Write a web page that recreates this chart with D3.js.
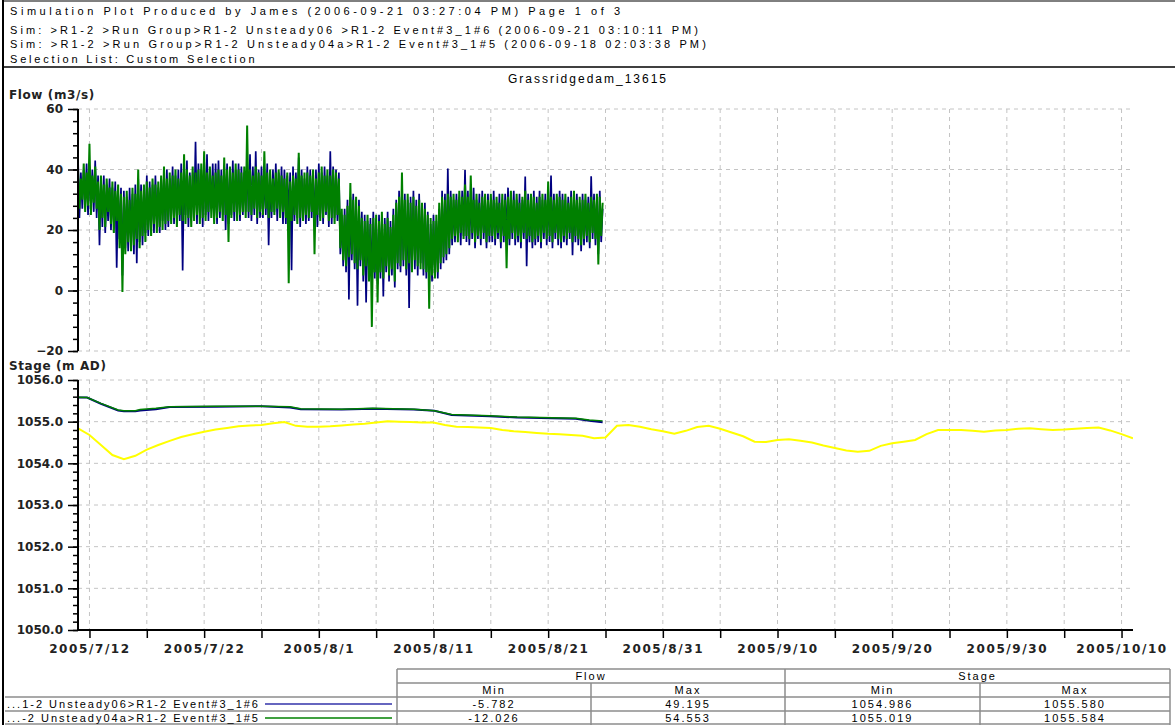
<!DOCTYPE html>
<html>
<head>
<meta charset="utf-8">
<script src="https://cdn.jsdelivr.net/npm/d3@7"></script>
<style>
body { margin: 0; background: #fff; }
svg text { font-family: "Liberation Sans", Arial, sans-serif; fill: #000; }
.axis text, text.axis { font-family: "DejaVu Sans", Verdana, sans-serif; font-weight: bold; font-size: 12px; fill: #222; }
</style>
</head>
<body>
<svg id="chart" width="1175" height="725"></svg>
<script>
// ---- data ----
var headerLines = [
	"Simulation Plot Produced by James (2006-09-21 03:27:04 PM) Page 1 of 3",
	"Sim: >R1-2 >Run Group>R1-2 Unsteady06 >R1-2 Event#3_1#6 (2006-09-21 03:10:11 PM)",
	"Sim: >R1-2 >Run Group>R1-2 Unsteady04a>R1-2 Event#3_1#5 (2006-09-18 02:03:38 PM)",
	"Selection List: Custom Selection"
];
var chartTitle = "Grassridgedam_13615";
var xDomain = ["2005-07-11 00:00", "2005-10-11 00:00"];
var xFirstTick = "2005-07-12 00:00";

// flow, 3-hourly from flowStart
var flowStart = "2005-07-11 00:00", flowStepHours = 3;
var flowUnsteady06 = [
	44, 24, 39, 27, 40, 29, 42, 25, 41, 28, 40, 26, 43, 24, 38, 15,
	36, 21, 38, 19, 35, 23, 37, 20, 34, 22, 36, 7.5, 33, 17, 34, 5,
	33, 14, 31, 13, 34, 16, 32, 12, 35, 9, 37, 16, 35, 15, 33, 19,
	38, 18, 36, 21, 35, 19, 38, 22, 34, 19, 37, 23, 39, 20, 40, 21,
	37, 24, 41, 22, 38, 24, 40, 23, 42, 6.6, 40, 25, 43, 21, 39, 24,
	39, 25, 49.195, 22, 42, 25, 40, 21, 43, 25, 45, 23, 40, 27, 42, 24,
	42, 22, 43, 24, 40, 25, 41, 20, 42, 22, 39, 25, 43, 23, 40, 25,
	42, 23, 41, 25, 39, 26, 43, 24, 45, 23, 41, 25, 46, 22, 40, 24,
	41, 24, 39, 25, 42, 15, 38, 24, 40, 26, 42, 23, 39, 25, 41, 22,
	40, 22, 38, 25, 39, 6.7, 41, 23, 39, 24, 44, 21, 40, 24, 37, 22,
	41, 23, 40, 24, 38, 22, 40, 21, 42, 24, 39, 22, 41, 25, 38, 21,
	46, 22, 41, 24, 40, 23, 39, 12, 25, 8, 27, 6, 30, -3, 31, 10,
	32, 7, 29, -5, 30, 8, 26, 3, 25, -4, 23, 5, 24, 2, 26, 4,
	23, 2, 25, 4, 24, -2, 24, 6, 26, 3, 23, 5, 27, 1, 30, 7,
	33, 6, 35, 8, 32, 5, 30, -5.782, 31, 8, 33, 7, 30, 5, 32, 9,
	27, 5, 29, 4, 26, 2, 22, 3, 25, 6, 23, 4, 27, 7, 33, 9,
	32, 10, 40.3, 12, 33, 15, 30, 16, 32, 18, 31, 15, 33, 18, 39.8, 16,
	33, 15, 32, 17, 34, 14, 30, 17, 32, 15, 33, 17, 30, 14, 32, 16,
	30, 16, 33, 15, 29, 17, 32, 14, 30, 16, 32, 18, 34, 15, 31, 17,
	33, 15, 30, 16, 32, 14, 30, 17, 37.7, 8, 32, 16, 30, 14, 33, 15,
	31, 16, 33, 14, 30, 17, 32, 15, 33, 16, 38, 14, 32, 17, 30, 15,
	33, 14, 32, 16, 30, 15, 31, 17, 33, 11.7, 31, 16, 32, 15, 29, 13,
	32, 15, 30, 16, 31, 14, 37.8, 17, 32, 15, 30, 12, 33, 16, 27
];
var flowUnsteady04a = [
	40, 27, 37, 30, 42, 26, 39, 28, 48.5, 25, 38, 29, 41, 27, 36, 20,
	38, 24, 35, 21, 37, 26, 34, 22, 36, 19, 33, 23, 35, 14, 32, -0.5,
	31, 12, 33, 16, 30, 13, 34, 15, 32, 17, 40, 14, 33, 18, 35, 16,
	36, 20, 34, 18, 37, 22, 35, 19, 36, 21, 38, 20, 41, 22, 37, 23,
	39, 22, 38, 24, 40, 21, 37, 25, 39, 23, 45, 22, 40, 24, 38, 21,
	41, 23, 39, 25, 40, 22, 42, 24, 46, 23, 39, 26, 41, 24, 38, 22,
	39, 24, 40, 26, 38, 23, 44, 25, 40, 16, 41, 24, 39, 26, 42, 23,
	40, 25, 39, 26, 41, 24, 54.553, 26, 40, 25, 38, 27, 41, 24, 39, 26,
	38, 25, 46, 27, 39, 24, 40, 26, 37, 25, 39, 27, 40, 24, 38, 26,
	37, 24, 39, 2.4, 36, 23, 38, 25, 37, 22, 45.5, 24, 38, 23, 39, 25,
	39, 24, 38, 26, 40, 12, 37, 25, 39, 23, 41, 24, 38, 26, 40, 23,
	38, 24, 40, 22, 39, 25, 37, 14, 27, 10, 25, 8, 28, 11, 35.5, 12,
	30, 9, 31, 7, 28, 10, 24, 5, 23, 8, 25, 3, 22, -12.026, 24, 6,
	25, -4, 23, 6, 26, 4, 22, 8, 24, 5, 21, 7, 25, 3, 29, 9,
	31, 8, 39, 10, 30, 7, 32, 9, 29, 6, 31, 10, 28, 8, 30, 7,
	29, 7, 27, 6, 25, -6, 24, 5, 23, 4, 25, 6, 29, 9, 31, 11,
	30, 12, 32, 14, 31, 17, 32, 18, 30, 16, 33, 19, 31, 17, 35, 18,
	31, 17, 38, 19, 30, 16, 32, 18, 29, 17, 31, 19, 32, 16, 30, 18,
	32, 18, 30, 17, 31, 19, 29, 16, 32, 18, 30, 7.4, 31, 17, 33, 19,
	30, 17, 32, 18, 29, 16, 31, 19, 33, 17, 30, 18, 32, 16, 31, 17,
	29, 18, 31, 16, 32, 19, 30, 17, 36, 18, 31, 16, 30, 19, 32, 17,
	31, 16, 30, 18, 32, 17, 29, 19, 31, 16, 33, 18, 30, 17, 31, 15,
	30, 17, 32, 18, 29, 16, 31, 19, 30, 17, 32, 8.6, 31, 18, 29
];

// stage of the two runs (break points)
var stageSimTimes = [
	"2005-07-11 00:00", "2005-07-11 19:00", "2005-07-13 00:00", "2005-07-14 12:00",
	"2005-07-15 00:00", "2005-07-16 00:00", "2005-07-16 10:00", "2005-07-17 19:00",
	"2005-07-19 00:00", "2005-07-23 00:00", "2005-07-27 00:00", "2005-07-29 12:00",
	"2005-07-30 10:00", "2005-08-03 00:00", "2005-08-05 17:00", "2005-08-09 07:00",
	"2005-08-11 02:00", "2005-08-12 14:00", "2005-08-15 22:00", "2005-08-18 07:00",
	"2005-08-23 10:00", "2005-08-24 14:00", "2005-08-25 18:00"
];
var stageUnsteady06 = [
	1055.580, 1055.58, 1055.43, 1055.27, 1055.25, 1055.25, 1055.27, 1055.30,
	1055.35, 1055.36, 1055.37, 1055.34, 1055.30, 1055.29, 1055.31, 1055.29,
	1055.26, 1055.16, 1055.13, 1055.10, 1055.07, 1055.02, 1054.986
];
var stageUnsteady04a = [
	1055.584, 1055.58, 1055.44, 1055.28, 1055.26, 1055.26, 1055.29, 1055.32,
	1055.36, 1055.37, 1055.37, 1055.36, 1055.31, 1055.30, 1055.32, 1055.30,
	1055.26, 1055.17, 1055.14, 1055.11, 1055.08, 1055.04, 1055.019
];

// third stage line (yellow), daily from stageObsStart
var stageObsStart = "2005-07-11 00:00";
var stageObserved = [
	1054.84, 1054.68, 1054.44, 1054.20, 1054.10, 1054.18, 1054.33, 1054.44, 1054.54, 1054.63,
	1054.70, 1054.76, 1054.81, 1054.85, 1054.89, 1054.91, 1054.92, 1054.96, 1054.99, 1054.90,
	1054.88, 1054.88, 1054.89, 1054.91, 1054.93, 1054.95, 1054.98, 1055.01, 1055.00, 1054.99,
	1054.98, 1054.98, 1054.92, 1054.88, 1054.87, 1054.86, 1054.85, 1054.80, 1054.77, 1054.75,
	1054.73, 1054.71, 1054.70, 1054.68, 1054.66, 1054.60, 1054.62, 1054.90, 1054.92, 1054.88,
	1054.82, 1054.77, 1054.71, 1054.78, 1054.87, 1054.90, 1054.83, 1054.74, 1054.65, 1054.52,
	1054.51, 1054.56, 1054.58, 1054.54, 1054.50, 1054.43, 1054.37, 1054.31, 1054.28, 1054.30,
	1054.42, 1054.48, 1054.52, 1054.56, 1054.70, 1054.80, 1054.80, 1054.80, 1054.78, 1054.76,
	1054.79, 1054.80, 1054.83, 1054.84, 1054.82, 1054.80, 1054.81, 1054.83, 1054.85, 1054.86,
	1054.79, 1054.70, 1054.60
];

var legendNames = ["...1-2 Unsteady06>R1-2 Event#3_1#6", "...-2 Unsteady04a>R1-2 Event#3_1#5"];
var flowMin = ["-5.782", "-12.026"],
	flowMax = ["49.195", "54.553"],
	stageMin = ["1054.986", "1055.019"],
	stageMax = ["1055.580", "1055.584"];

var blueColor = "#000080",
	greenColor = "#008000",
	yellowColor = "#ffff00",
	gridColor = "#c4c4c4",
	tableColor = "#8c8c8c";

// ---- layout ----
var svg = d3.select("#chart"),
	parse = d3.utcParse("%Y-%m-%d %H:%M"),
	left = 78,
	right = 1133;

var x = d3.scaleUtc()
	.domain(xDomain.map(parse))
	.range([left, right]);
var yFlow = d3.scaleLinear().domain([-20, 60]).range([351, 109]);
var yStage = d3.scaleLinear().domain([1050, 1056]).range([630, 380]);

// frame + header
svg.append("line").attr("x1", 3).attr("x2", 3).attr("y1", 0).attr("y2", 725)
	.attr("stroke", "#000").attr("stroke-width", 2);
svg.append("line").attr("x1", 3).attr("x2", 1175).attr("y1", 1).attr("y2", 1)
	.attr("stroke", "#000").attr("stroke-width", 1);
svg.append("line").attr("x1", 3).attr("x2", 1175).attr("y1", 67).attr("y2", 67)
	.attr("stroke", "#000").attr("stroke-width", 1.5);
var headerSpacing = [3.55, 3.1, 3.15, 2.8];
svg.append("g").selectAll("text")
	.data(headerLines)
	.enter().append("text")
	.attr("x", 10)
	.attr("y", function(d, i) { return [15, 34, 48, 63][i]; })
	.attr("font-size", 11)
	.attr("letter-spacing", function(d, i) { return headerSpacing[i]; })
	.text(function(d) { return d; });

svg.append("text")
	.attr("x", 588).attr("y", 83)
	.attr("text-anchor", "middle")
	.attr("font-size", 12)
	.attr("letter-spacing", 2)
	.text(chartTitle);

// grid
var gridTicks = d3.utcDay.range(parse(xFirstTick), parse(xDomain[1]), 5);
function grid(y, major) {
	var g = svg.append("g").attr("stroke", gridColor).attr("stroke-dasharray", "4,4");
	g.selectAll(".v").data(gridTicks).enter().append("line")
		.attr("x1", function(d) { return x(d); }).attr("x2", function(d) { return x(d); })
		.attr("y1", y.range()[1]).attr("y2", y.range()[0]);
	g.selectAll(".h").data(major).enter().append("line")
		.attr("x1", left).attr("x2", right)
		.attr("y1", function(d) { return y(d); }).attr("y2", function(d) { return y(d); });
}
grid(yFlow, d3.range(-20, 61, 20));
grid(yStage, d3.range(1050, 1056.1, 1));

svg.append("clipPath").attr("id", "clipFlow").append("rect")
	.attr("x", left).attr("y", 109).attr("width", right - left).attr("height", 242);
svg.append("clipPath").attr("id", "clipStage").append("rect")
	.attr("x", left).attr("y", 380).attr("width", right - left).attr("height", 250);

// flow lines
var t0 = parse(flowStart);
function flowTime(i) { return d3.utcHour.offset(t0, i * flowStepHours); }
var flowLine = d3.line()
	.x(function(d, i) { return x(flowTime(i)); })
	.y(function(d) { return yFlow(d); });
var flowG = svg.append("g").attr("clip-path", "url(#clipFlow)");
flowG.append("path").datum(flowUnsteady06)
	.attr("fill", "none").attr("stroke", blueColor).attr("stroke-width", 1.7)
	.attr("d", flowLine);
flowG.append("path").datum(flowUnsteady04a)
	.attr("fill", "none").attr("stroke", greenColor).attr("stroke-width", 2)
	.attr("d", flowLine);

// stage lines
var simTimes = stageSimTimes.map(parse);
var simLine = d3.line()
	.x(function(d, i) { return x(simTimes[i]); })
	.y(function(d) { return yStage(d); });
var s0 = parse(stageObsStart);
var obsLine = d3.line()
	.x(function(d, i) { return x(d3.utcDay.offset(s0, i)); })
	.y(function(d) { return yStage(d); });
var stageG = svg.append("g").attr("clip-path", "url(#clipStage)");
stageG.append("path").datum(stageObserved)
	.attr("fill", "none").attr("stroke", yellowColor).attr("stroke-width", 2)
	.attr("d", obsLine);
stageG.append("path").datum(stageUnsteady06)
	.attr("fill", "none").attr("stroke", blueColor).attr("stroke-width", 2)
	.attr("d", simLine);
stageG.append("path").datum(stageUnsteady04a)
	.attr("fill", "none").attr("stroke", greenColor).attr("stroke-width", 1.5)
	.attr("d", simLine);

// y axes
function yAxis(y, major, minor, fmt, label, labelY) {
	var gMinor = svg.append("g").attr("transform", "translate(" + left + ",0)")
		.call(d3.axisLeft(y).tickValues(minor).tickSize(5).tickFormat(""));
	gMinor.select(".domain").remove();
	var gMajor = svg.append("g").attr("class", "axis").attr("transform", "translate(" + left + ",0)")
		.call(d3.axisLeft(y).tickValues(major).tickSize(10).tickPadding(5).tickFormat(fmt));
	gMajor.select(".domain").remove();
	svg.selectAll(".tick line").attr("stroke", "#000").attr("stroke-width", 1.5);
	svg.append("line").attr("x1", left).attr("x2", left)
		.attr("y1", y.range()[1]).attr("y2", y.range()[0])
		.attr("stroke", "#000").attr("stroke-width", 2);
	svg.append("text").attr("class", "axis")
		.attr("x", 9).attr("y", labelY)
		.attr("letter-spacing", 0.6)
		.text(label);
}
yAxis(yFlow, d3.range(-20, 61, 20), d3.range(-20, 61, 4), d3.format("d"), "Flow (m3/s)", 99);
yAxis(yStage, d3.range(1050, 1056.1, 1), d3.range(1050, 1056.01, 0.2), d3.format(".1f"), "Stage (m AD)", 370);

// x axis
var fmtDate = d3.utcFormat("%Y/%-m/%-d");
var xAx = svg.append("g").attr("class", "axis")
	.attr("transform", "translate(0,630)")
	.call(d3.axisBottom(x).tickValues(gridTicks).tickSize(8).tickPadding(6)
		.tickFormat(function(d, i) { return i % 2 === 0 ? fmtDate(d) : ""; }));
xAx.select(".domain").remove();
xAx.selectAll("line").attr("stroke", "#000").attr("stroke-width", 1.5);
xAx.selectAll("text").attr("letter-spacing", 1.6);
svg.append("line").attr("x1", left - 1).attr("x2", right).attr("y1", 630).attr("y2", 630)
	.attr("stroke", "#000").attr("stroke-width", 2);

// summary table
var tbl = svg.append("g").attr("font-size", 11).attr("letter-spacing", 2);
var colX = [397, 591, 785, 980, 1170],
	rowY = [669, 683, 697, 711, 725];
function hline(x1, x2, y) {
	tbl.append("line").attr("x1", x1).attr("x2", x2).attr("y1", y).attr("y2", y)
		.attr("stroke", tableColor).attr("stroke-width", 1.5);
}
function vline(xx, y1, y2) {
	tbl.append("line").attr("x1", xx).attr("x2", xx).attr("y1", y1).attr("y2", y2)
		.attr("stroke", tableColor).attr("stroke-width", 1.5);
}
hline(colX[0], colX[4], rowY[0]);
hline(colX[0], colX[4], rowY[1]);
hline(5, colX[4], rowY[2]);
hline(5, colX[4], rowY[3]);
hline(5, colX[4], rowY[4] - 1);
vline(colX[0], rowY[0], rowY[4]);
vline(colX[2], rowY[0], rowY[4]);
vline(colX[4], rowY[0], rowY[4]);
vline(colX[1], rowY[1], rowY[4]);
vline(colX[3], rowY[1], rowY[4]);
function cell(txt, cx, row) {
	tbl.append("text").attr("x", cx).attr("y", rowY[row] + 11)
		.attr("text-anchor", "middle").text(txt);
}
cell("Flow", (colX[0] + colX[2]) / 2, 0);
cell("Stage", (colX[2] + colX[4]) / 2, 0);
["Min", "Max", "Min", "Max"].forEach(function(t, j) {
	cell(t, (colX[j] + colX[j + 1]) / 2, 1);
});
var legendColors = ["#3333aa", greenColor];
legendNames.forEach(function(name, r) {
	tbl.append("text").attr("x", 7).attr("y", rowY[r + 2] + 11).text(name);
	tbl.append("line").attr("x1", 265).attr("x2", 392)
		.attr("y1", rowY[r + 2] + 7).attr("y2", rowY[r + 2] + 7)
		.attr("stroke", legendColors[r]).attr("stroke-width", 1.5);
	[flowMin[r], flowMax[r], stageMin[r], stageMax[r]].forEach(function(v, j) {
		cell(v, (colX[j] + colX[j + 1]) / 2, r + 2);
	});
});
</script>
</body>
</html>
